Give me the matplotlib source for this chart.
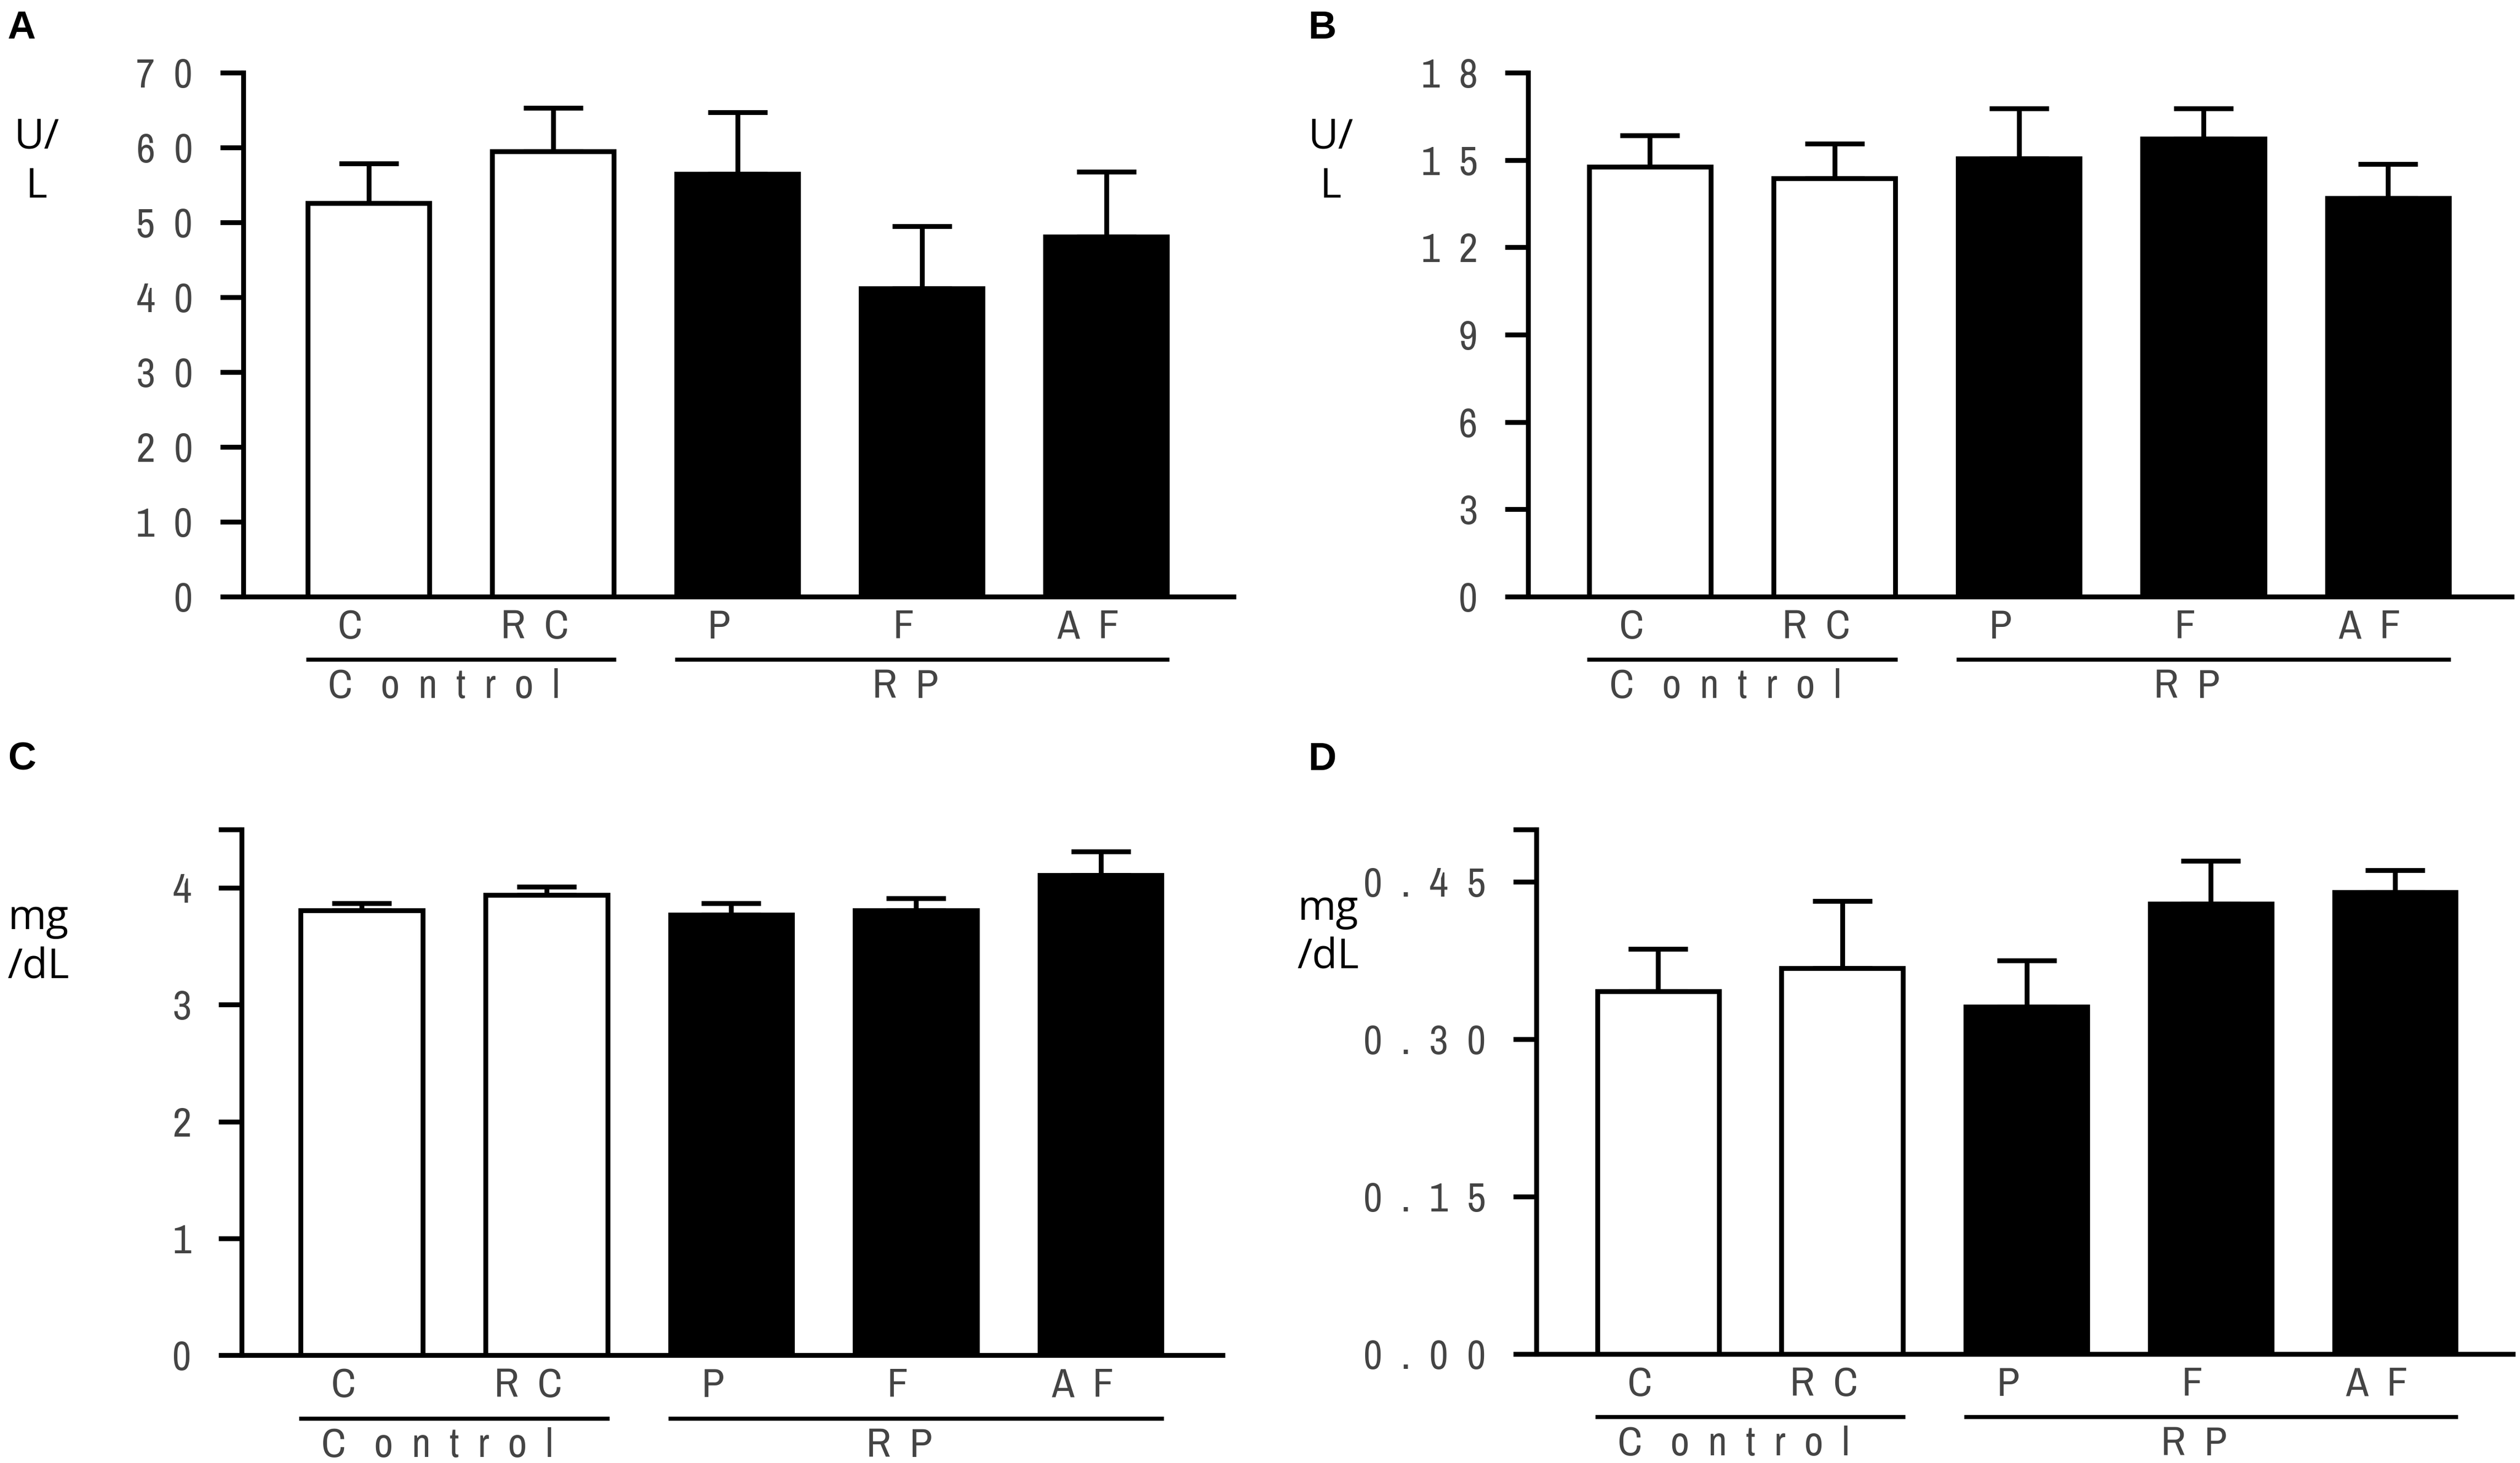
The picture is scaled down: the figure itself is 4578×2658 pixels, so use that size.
import matplotlib

matplotlib.use("Agg")
import matplotlib.pyplot as plt
import matplotlib.transforms as mtransforms
from matplotlib import font_manager

# ---- data --------------------------------------------------------------------
groups = ["C", "R  C", "P", "F", "A  F"]
bar_colors = ["white", "white", "black", "black", "black"]

a_mean = [52.6, 59.5, 56.5, 41.2, 48.1]
a_sem = [5.3, 5.8, 8.2, 8.3, 8.7]
a_ticks = [0, 10, 20, 30, 40, 50, 60, 70]
a_ticklabels = ["0", "1  0", "2  0", "3  0", "4  0", "5  0", "6  0", "7  0"]

b_mean = [14.77, 14.37, 15.05, 15.74, 13.69]
b_sem = [1.07, 1.19, 1.72, 1.03, 1.18]
b_ticks = [0, 3, 6, 9, 12, 15, 18]
b_ticklabels = ["0", "3", "6", "9", "1  2", "1  5", "1  8"]

c_mean = [3.81, 3.94, 3.77, 3.81, 4.11]
c_sem = [0.06, 0.07, 0.10, 0.10, 0.20]
c_ticks = [0, 1, 2, 3, 4, 4.5]
c_ticklabels = ["0", "1", "2", "3", "4", ""]

d_mean = [0.346, 0.368, 0.331, 0.429, 0.440]
d_sem = [0.040, 0.064, 0.044, 0.041, 0.021]
d_ticks = [0, 0.15, 0.30, 0.45, 0.50]
d_ticklabels = ["0  .  0  0", "0  .  1  5", "0  .  3  0", "0  .  4  5", ""]

group_names = ["C   o  n  t  r  o  l", "R  P"]
group_members = [[0, 1], [2, 3, 4]]

# ---- fonts -------------------------------------------------------------------
# the original uses a narrow, letter-spaced face; take a condensed one if present
narrow = "DejaVu Sans"
for f in font_manager.fontManager.ttflist:
    n = f.name.lower()
    if "narrow" in n or "condensed" in n:
        narrow = f.name
        break
tick_font = dict(family=narrow, size=18, color="#444444")
unit_font = dict(family="Open Sans", size=18, color="black")
LW = 2.1

W, H = 4578, 2658
fig = plt.figure(figsize=(W / 300, H / 300), dpi=300)


def panel(rect, xlim, mean, sem, ylim, ticks, ticklabels, letter, letter_xy, unit, unit_xy):
    ax = fig.add_axes(rect)
    x = list(range(len(groups)))
    ax.bar(x, mean, width=0.66, color=bar_colors, edgecolor="black", linewidth=LW, zorder=3)
    ax.errorbar(x, mean, yerr=[[0] * len(sem), sem], fmt="none", ecolor="black",
                elinewidth=LW, capsize=13, capthick=LW, zorder=2)
    ax.set_xlim(*xlim)
    ax.set_ylim(*ylim)
    for s in ["top", "right"]:
        ax.spines[s].set_visible(False)
    for s in ["left", "bottom"]:
        ax.spines[s].set_linewidth(LW)
    ax.set_xticks([])
    ax.set_yticks(ticks)
    ax.set_yticklabels(ticklabels, **tick_font)
    ax.tick_params(axis="y", direction="out", length=10, width=LW, pad=12)

    trans = mtransforms.blended_transform_factory(ax.transData, ax.transAxes)
    for i, g in enumerate(groups):
        ax.text(i - 0.1, -0.058, g, transform=trans, ha="center", va="center",
                clip_on=False, **tick_font)
    for name, members in zip(group_names, group_members):
        x0, x1 = members[0] - 0.34, members[-1] + 0.34
        ax.plot([x0, x1], [-0.12, -0.12], transform=trans, color="black",
                lw=LW * 0.85, clip_on=False, solid_capstyle="butt")
        ax.text((x0 + x1) / 2 - 0.09, -0.172, name, transform=trans, ha="center",
                va="center", clip_on=False, **tick_font)

    fig.text(*letter_xy, letter, ha="left", va="top", family="Liberation Sans",
             weight="bold", size=17)
    fig.text(*unit_xy, unit, ha="center", va="center", multialignment="center",
             linespacing=1.25, **unit_font)
    return ax


panel([0.0965, 0.5922, 0.3930, 0.3581], (-0.68, 4.69), a_mean, a_sem, (0, 70),
      a_ticks, a_ticklabels, "A", (0.003, 0.993), "U/\nL", (0.0144, 0.889))
panel([0.6064, 0.5922, 0.3903, 0.3581], (-0.66, 4.67), b_mean, b_sem, (0, 18),
      b_ticks, b_ticklabels, "B", (0.519, 0.993), "U/\nL", (0.528, 0.889))
panel([0.0959, 0.0737, 0.3893, 0.3593], (-0.65, 4.66), c_mean, c_sem, (0, 4.5),
      c_ticks, c_ticklabels, "C", (0.003, 0.493), "mg\n/dL", (0.0153, 0.3555))
panel([0.6097, 0.0745, 0.3875, 0.3585], (-0.66, 4.64), d_mean, d_sem, (0, 0.5),
      d_ticks, d_ticklabels, "D", (0.519, 0.493), "mg\n/dL", (0.527, 0.362))

fig.savefig("out.png", dpi=300)
